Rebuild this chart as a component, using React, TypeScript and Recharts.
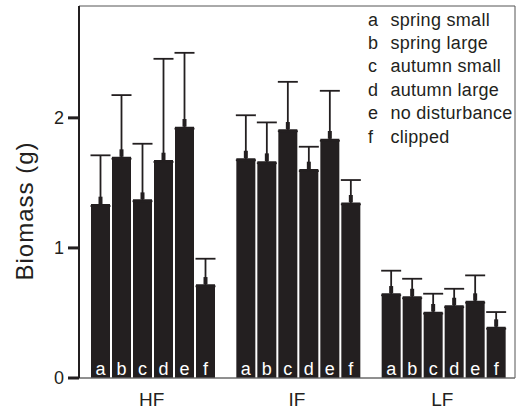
import React from 'react';
import {
  BarChart,
  Bar,
  XAxis,
  YAxis,
  ErrorBar,
  LabelList,
  Legend,
  ReferenceArea,
} from 'recharts';

// ---- data ----
const categories = ['HF', 'IF', 'LF'];
const treatments = ['a', 'b', 'c', 'd', 'e', 'f'];
const treatmentNames = [
  'spring small',
  'spring large',
  'autumn small',
  'autumn large',
  'no disturbance',
  'clipped',
];

// mean biomass per treatment (a..f)
const hfMean = [1.337, 1.701, 1.374, 1.676, 1.932, 0.72];
const ifMean = [1.689, 1.666, 1.912, 1.606, 1.839, 1.35];
const lfMean = [0.651, 0.628, 0.51, 0.559, 0.594, 0.394];

// short (thick) error segment
const hfSe = [0.057, 0.057, 0.053, 0.056, 0.059, 0.056];
const ifSe = [0.058, 0.061, 0.056, 0.057, 0.06, 0.057];
const lfSe = [0.056, 0.058, 0.059, 0.058, 0.057, 0.057];

// long (thin, capped) error
const hfSd = [0.375, 0.474, 0.427, 0.778, 0.568, 0.197];
const ifSd = [0.331, 0.299, 0.365, 0.172, 0.369, 0.172];
const lfSd = [0.174, 0.135, 0.138, 0.127, 0.195, 0.113];

const yTicks = [0, 1, 2];
const yMax = 2.86;

const means = [hfMean, ifMean, lfMean];
const ses = [hfSe, ifSe, lfSe];
const sds = [hfSd, ifSd, lfSd];

const data = categories.map((name, i) => {
  const row: Record<string, any> = { name };
  treatments.forEach((t, j) => {
    row[t] = means[i][j];
    row[`${t}_se`] = [0, ses[i][j]];
    row[`${t}_sd`] = [0.015, sds[i][j]];
  });
  return row;
});

const INK = '#231f20';
const FONT = '"Liberation Sans", Arial, Helvetica, sans-serif';
const TICK_SIZE = 11;
const TICK_MARGIN = 4;

const LegendContent = () => (
  <div
    style={{
      fontFamily: FONT,
      fontSize: 18,
      lineHeight: '23.4px',
      color: INK,
      letterSpacing: 0.3,
      whiteSpace: 'nowrap',
    }}
  >
    {treatments.map((t, j) => (
      <div key={t}>
        <span style={{ display: 'inline-block', width: 22.4 }}>{t}</span>
        {treatmentNames[j]}
      </div>
    ))}
  </div>
);

const YLabel = (props: any) => {
  const vb = props.viewBox || { x: 0, y: 0, width: 0, height: 0 };
  const x = vb.x + 32.5;
  const y = vb.y + vb.height / 2 + 19;
  return (
    <text
      x={x}
      y={y}
      transform={`rotate(-90, ${x}, ${y})`}
      textAnchor="middle"
      fontFamily={FONT}
      fontSize={24}
      letterSpacing={1}
      fill={INK}
    >
      Biomass (g)
    </text>
  );
};

const YTick = (props: any) => {
  const { x, y, payload } = props;
  const lineStart = x + TICK_MARGIN;
  return (
    <g>
      <rect
        x={lineStart}
        y={y - 1.5}
        width={TICK_SIZE}
        height={3}
        fill={INK}
      />
      <text
        x={x}
        y={y}
        dy="0.36em"
        textAnchor="end"
        fontFamily={FONT}
        fontSize={18}
        fill={INK}
      >
        {payload.value}
      </text>
    </g>
  );
};

const makeBarLabel = (letter: string) => (props: any) => {
  const { x, y, width, height } = props;
  return (
    <text
      x={x + width / 2}
      y={y + height - 3}
      textAnchor="middle"
      fontFamily={FONT}
      fontSize={18}
      fill="#ffffff"
    >
      {letter}
    </text>
  );
};

export default function App() {
  return (
    <div style={{ position: 'absolute', left: 0, top: 0, background: '#fff' }}>
      <BarChart
        width={522}
        height={413}
        data={data}
        margin={{ top: 6, right: 7, bottom: 0, left: 0 }}
        barCategoryGap={12}
        barGap={2}
      >
        <ReferenceArea
          y1={0}
          y2={yMax}
          fill="none"
          stroke="#555"
          strokeWidth={1}
          ifOverflow="visible"
        />
        <XAxis
          dataKey="name"
          height={35}
          tickLine={false}
          tickMargin={9}
          axisLine={{ stroke: '#777', strokeWidth: 1 }}
          tick={{ fontSize: 19, fill: INK, fontFamily: FONT }}
        />
        <YAxis
          width={79}
          domain={[0, yMax]}
          allowDataOverflow
          ticks={yTicks}
          tickSize={TICK_SIZE}
          tickMargin={TICK_MARGIN}
          tickLine={false}
          stroke={INK}
          axisLine={{ stroke: INK, strokeWidth: 2 }}
          tick={<YTick />}
          label={<YLabel />}
        />
        <Legend
          layout="vertical"
          align="center"
          verticalAlign="middle"
          content={<LegendContent />}
          wrapperStyle={{ left: 368, top: 8.5, width: 154 }}
        />
        {treatments.map((t) => (
          <Bar key={t} dataKey={t} fill={INK} isAnimationActive={false}>
            <ErrorBar
              dataKey={`${t}_sd`}
              width={10}
              stroke={INK}
              strokeWidth={1.8}
              isAnimationActive={false}
            />
            <ErrorBar
              dataKey={`${t}_se`}
              width={0}
              stroke={INK}
              strokeWidth={4}
              isAnimationActive={false}
            />
            <LabelList dataKey={t} content={makeBarLabel(t)} />
          </Bar>
        ))}
      </BarChart>
    </div>
  );
}
